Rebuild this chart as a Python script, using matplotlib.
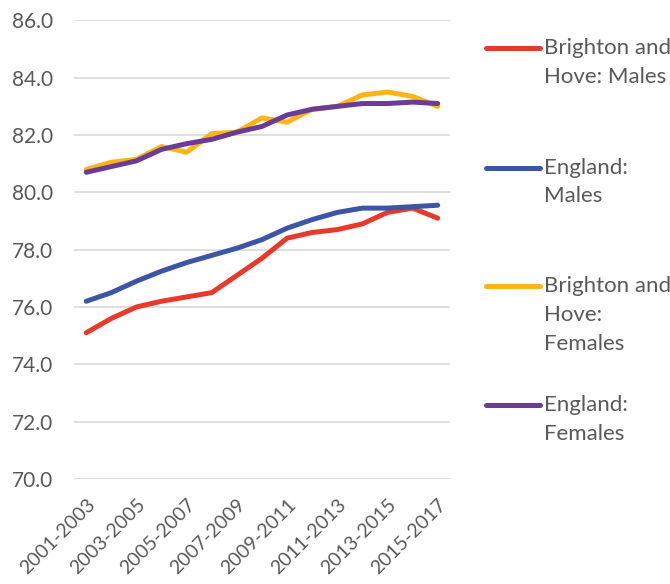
import matplotlib.pyplot as plt
from matplotlib.lines import Line2D

plt.rcParams['font.family'] = ['Lato', 'DejaVu Sans']

periods = ['2001-2003', '2002-2004', '2003-2005', '2004-2006', '2005-2007',
           '2006-2008', '2007-2009', '2008-2010', '2009-2011', '2010-2012',
           '2011-2013', '2012-2014', '2013-2015', '2014-2016', '2015-2017']

bh_males = [75.1, 75.6, 76.0, 76.2, 76.35, 76.5, 77.1, 77.7, 78.4, 78.6,
            78.7, 78.9, 79.3, 79.45, 79.1]
eng_males = [76.2, 76.5, 76.9, 77.25, 77.55, 77.8, 78.05, 78.35, 78.75, 79.05,
             79.3, 79.45, 79.45, 79.5, 79.55]
bh_females = [80.8, 81.05, 81.15, 81.6, 81.4, 82.05, 82.1, 82.6, 82.45, 82.9,
              83.0, 83.4, 83.5, 83.35, 83.0]
eng_females = [80.7, 80.9, 81.1, 81.5, 81.7, 81.85, 82.1, 82.3, 82.7, 82.9,
               83.0, 83.1, 83.1, 83.15, 83.1]

series = [bh_males, eng_males, bh_females, eng_females]
labels = ['Brighton and\nHove: Males', 'England:\nMales',
          'Brighton and\nHove:\nFemales', 'England:\nFemales']
colors = ['#E8392A', '#3B56A5', '#FDB515', '#6B3C95']

grey = '#595959'

fig = plt.figure(figsize=(6.7, 5.84), dpi=100)
ax = fig.add_axes([0.110, 0.180, 0.562, 0.785])

x = list(range(len(periods)))
for vals, col in zip(series, colors):
    ax.plot(x, vals, color=col, linewidth=3.6, solid_capstyle='round',
            solid_joinstyle='round')

ax.set_xlim(-0.5, len(periods) - 0.5)
ax.set_ylim(70, 86)
ax.set_yticks(range(70, 87, 2))
ax.set_yticklabels([f'{v:.1f}' for v in range(70, 87, 2)])
ax.set_xticks(x[::2])
ax.set_xticklabels(periods[::2], rotation=45, ha='right',
                   rotation_mode='anchor', fontsize=14)

ax.grid(axis='y', color='#d9d9d9', linewidth=1.2)
ax.set_axisbelow(True)
for s in ax.spines.values():
    s.set_visible(False)
ax.tick_params(axis='both', length=0, colors=grey)
ax.tick_params(axis='y', pad=15, labelsize=15)
ax.tick_params(axis='x', pad=12)

# legend on the right, handle aligned with first text line
leg_y = [0.918, 0.713, 0.510, 0.306]
for yy, lab, col in zip(leg_y, labels, colors):
    fig.add_artist(Line2D([0.725, 0.806], [yy, yy], color=col, linewidth=3.6,
                          solid_capstyle='round', transform=fig.transFigure))
    fig.text(0.812, yy + 0.017, lab, fontsize=16, color=grey,
             va='top', ha='left', linespacing=1.55)

fig.savefig('out.png', dpi=100)
